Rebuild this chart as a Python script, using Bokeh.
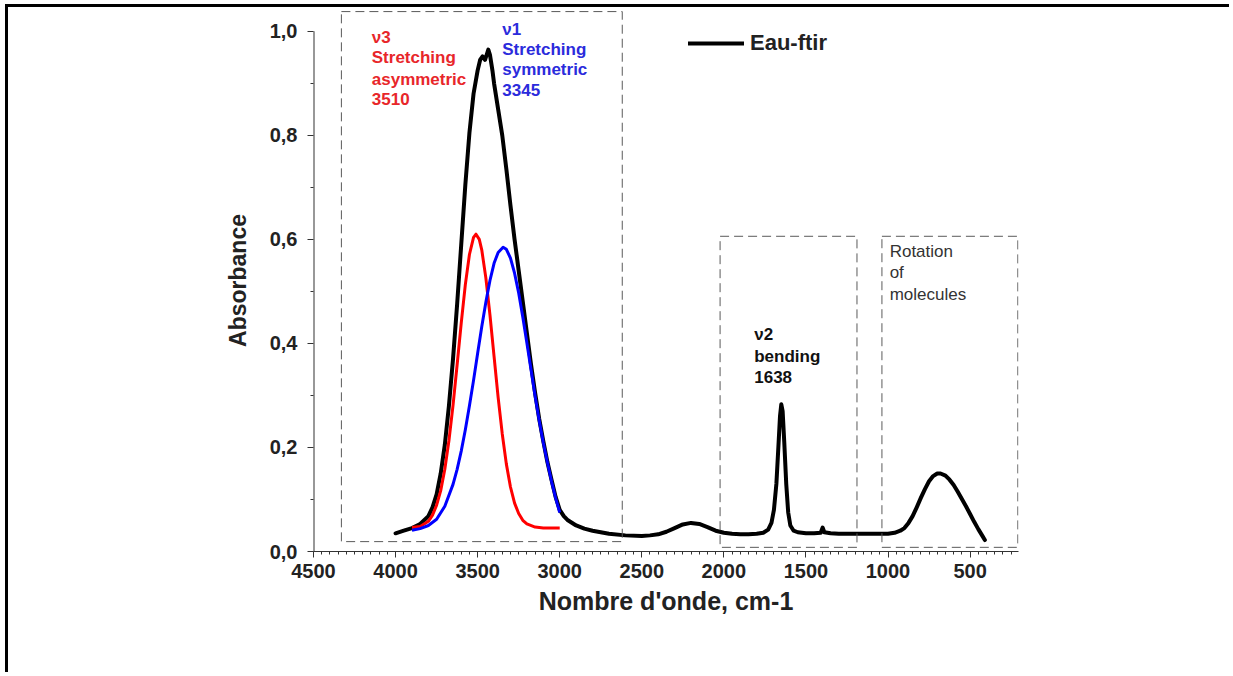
from bokeh.plotting import figure
from bokeh.models import Range1d, FixedTicker, Legend, LegendItem, BoxAnnotation, ColumnDataSource
from bokeh.core.properties import value
from bokeh.embed import file_html
from bokeh.resources import INLINE

# ---------------- data ----------------
black_w = [4000, 3950, 3900, 3850, 3800, 3775, 3750, 3725, 3700, 3675, 3650, 3625, 3600, 3575,
           3550, 3525, 3500, 3485, 3470, 3455, 3445, 3435, 3425, 3410, 3400, 3375, 3350, 3325,
           3300, 3275, 3250, 3225, 3200, 3175, 3150, 3125, 3100, 3075, 3050, 3025, 3000, 2975,
           2950, 2900, 2850, 2800, 2700, 2600, 2500, 2450, 2400, 2350, 2300, 2250, 2200, 2150,
           2100, 2050, 2000, 1950, 1900, 1850, 1800, 1760, 1730, 1710, 1695, 1680, 1668, 1658,
           1650, 1642, 1632, 1620, 1608, 1595, 1575, 1550, 1500, 1450, 1410, 1398, 1388, 1350,
           1300, 1200, 1100, 1000, 960, 925, 900, 875, 850, 825, 800, 775, 750, 725, 700, 680,
           650, 625, 600, 575, 550, 525, 500, 475, 450, 425, 410]
black_a = [0.035, 0.040, 0.045, 0.053, 0.068, 0.085, 0.110, 0.150, 0.205, 0.280, 0.370, 0.475, 0.590, 0.705,
           0.805, 0.880, 0.925, 0.945, 0.952, 0.945, 0.955, 0.965, 0.955, 0.925, 0.900, 0.850, 0.800, 0.735,
           0.665, 0.600, 0.540, 0.480, 0.420, 0.360, 0.305, 0.255, 0.212, 0.172, 0.138, 0.105, 0.080, 0.068,
           0.060, 0.050, 0.044, 0.040, 0.034, 0.031, 0.030, 0.031, 0.033, 0.038, 0.045, 0.052, 0.055, 0.053,
           0.047, 0.040, 0.036, 0.034, 0.033, 0.033, 0.034, 0.036, 0.042, 0.055, 0.080, 0.130, 0.200, 0.260,
           0.283, 0.270, 0.210, 0.130, 0.075, 0.050, 0.040, 0.037, 0.035, 0.035, 0.036, 0.046, 0.037, 0.035,
           0.034, 0.034, 0.034, 0.034, 0.036, 0.040, 0.045, 0.055, 0.068, 0.085, 0.103, 0.120, 0.135, 0.145, 0.150, 0.150,
           0.146, 0.138, 0.128, 0.115, 0.101, 0.087, 0.072, 0.057, 0.043, 0.030, 0.022]

red_w = [3900, 3850, 3800, 3775, 3750, 3725, 3700, 3675, 3650, 3625, 3600, 3575, 3550, 3525,
         3510, 3490, 3475, 3450, 3425, 3400, 3375, 3350, 3325, 3300, 3275, 3250, 3225, 3200,
         3150, 3100, 3000]
red_a = [0.046, 0.048, 0.058, 0.070, 0.089, 0.117, 0.158, 0.213, 0.281, 0.359, 0.439, 0.513, 0.571, 0.604,
         0.610, 0.600, 0.580, 0.526, 0.455, 0.375, 0.296, 0.226, 0.168, 0.124, 0.093, 0.073, 0.060, 0.053,
         0.047, 0.045, 0.045]

blue_w = [3900, 3850, 3800, 3750, 3700, 3650, 3625, 3600, 3575, 3550, 3525, 3500, 3475, 3450,
          3425, 3400, 3375, 3345, 3325, 3300, 3275, 3250, 3225, 3200, 3175, 3150, 3125, 3100,
          3075, 3050, 3025, 3000]
blue_a = [0.041, 0.044, 0.050, 0.062, 0.087, 0.129, 0.158, 0.193, 0.234, 0.280, 0.329, 0.381, 0.432, 0.479,
          0.521, 0.554, 0.575, 0.585, 0.581, 0.564, 0.535, 0.497, 0.451, 0.401, 0.350, 0.299, 0.252, 0.209,
          0.171, 0.135, 0.103, 0.075]

x_ticks = [4500, 4000, 3500, 3000, 2500, 2000, 1500, 1000, 500]
y_ticks = [0.0, 0.2, 0.4, 0.6, 0.8, 1.0]
y_tick_labels = ["0,0", "0,2", "0,4", "0,6", "0,8", "1,0"]

legend_label = "Eau-ftir"
x_title = "Nombre d'onde, cm-1"
y_title = "Absorbance"

red_text = ["\u03bd3", "Stretching", "asymmetric", "3510"]
blue_text = ["\u03bd1", "Stretching", "symmetric", "3345"]
bend_text = ["\u03bd2", "bending", "1638"]
rot_text = ["Rotation", "of", "molecules"]

# ---------------- figure ----------------
FONT = "Liberation Sans"
W, H = 1224, 668
p = figure(width=W, height=H, output_backend="svg", toolbar_location=None,
           x_range=Range1d(4500, 205), y_range=Range1d(0, 1.042),
           min_border_left=305, min_border_right=W - 1010, min_border_top=2,
           min_border_bottom=H - 544)
p.styles = {"border-top": "3px solid black", "border-left": "3px solid black",
            "margin-left": "5px", "margin-top": "4px"}
p.outline_line_color = None
p.grid.visible = False
p.background_fill_color = "white"
p.border_fill_color = "white"

# axes
p.xaxis.ticker = FixedTicker(ticks=x_ticks, minor_ticks=list(range(250, 4501, 50)))
p.yaxis.ticker = FixedTicker(ticks=y_ticks, minor_ticks=[0.1, 0.3, 0.5, 0.7, 0.9])
p.yaxis.major_label_overrides = {t: l for t, l in zip(y_ticks, y_tick_labels)}
for ax in (p.xaxis, p.yaxis):
    ax.major_tick_out = 6
    ax.major_tick_in = 0
    ax.minor_tick_out = 3
    ax.minor_tick_in = 0
    ax.major_tick_line_color = "#333333"
    ax.minor_tick_line_color = "#333333"
    ax.axis_line_color = "#333333"
    ax.major_label_text_font = FONT
    ax.major_label_text_font_style = "bold"
    ax.major_label_text_font_size = "20px"
    ax.major_label_text_color = "#222222"
    ax.axis_label_text_font = FONT
    ax.axis_label_text_font_style = "bold"
    ax.axis_label_text_color = "#222222"
p.yaxis.axis_line_color = None
p.xaxis.major_label_standoff = 6
p.yaxis.major_label_standoff = 10
p.xaxis.axis_label = x_title
p.yaxis.axis_label = y_title
p.xaxis.axis_label_text_font_size = "25px"
p.yaxis.axis_label_text_font_size = "23px"
p.xaxis.axis_label_standoff = 6
p.yaxis.axis_label_standoff = 16

# y-axis line only up to 1.0
p.line(x=[4500, 4500], y=[0, y_ticks[-1]], line_color="#333333", line_width=2)

# dashed boxes
box_style = dict(fill_color=None, fill_alpha=0, line_color="#5a5a5a", line_alpha=1.0,
                 line_dash="9 5", line_width=1)
p.add_layout(BoxAnnotation(left=4330, right=2619, bottom=0.019, top=1.038, **box_style))
p.add_layout(BoxAnnotation(left=2023, right=1189, bottom=0.008, top=0.606, **box_style))
p.add_layout(BoxAnnotation(left=1037, right=209, bottom=0.008, top=0.606, **box_style))

# curves
r_black = p.line(black_w, black_a, line_color="black", line_width=4, line_join="round", line_cap="round")
p.line(red_w, red_a, line_color="#ff0000", line_width=3, line_join="round")
p.line(blue_w, blue_a, line_color="#0000ff", line_width=3, line_join="round")

# text annotations
def add_text(x, ys, lines, color, style, size):
    src = ColumnDataSource(dict(x=[x] * len(lines), y=ys, t=lines))
    p.text(x="x", y="y", text="t", source=src, text_color=color, text_font=value(FONT),
           text_font_style=style, text_font_size=size, text_baseline="middle", text_align="left")

add_text(4145, [0.988, 0.950, 0.908, 0.870], red_text, "#e8262a", "bold", "17px")
add_text(3350, [1.004, 0.965, 0.927, 0.888], blue_text, "#2b2bdc", "bold", "17px")
add_text(1815, [0.417, 0.375, 0.335], bend_text, "#111111", "bold", "17px")
add_text(990, [0.577, 0.537, 0.494], rot_text, "#333333", "normal", "17px")

# legend
legend = Legend(items=[LegendItem(label=legend_label, renderers=[r_black])],
                location=(375, 495), margin=0, padding=0, border_line_color=None,
                background_fill_alpha=0, glyph_width=56, glyph_height=20, label_standoff=6,
                label_text_font=FONT, label_text_font_style="bold", label_text_font_size="22px",
                label_text_color="#222222")
p.add_layout(legend)

open("out.html", "w").write(file_html(p, INLINE))
